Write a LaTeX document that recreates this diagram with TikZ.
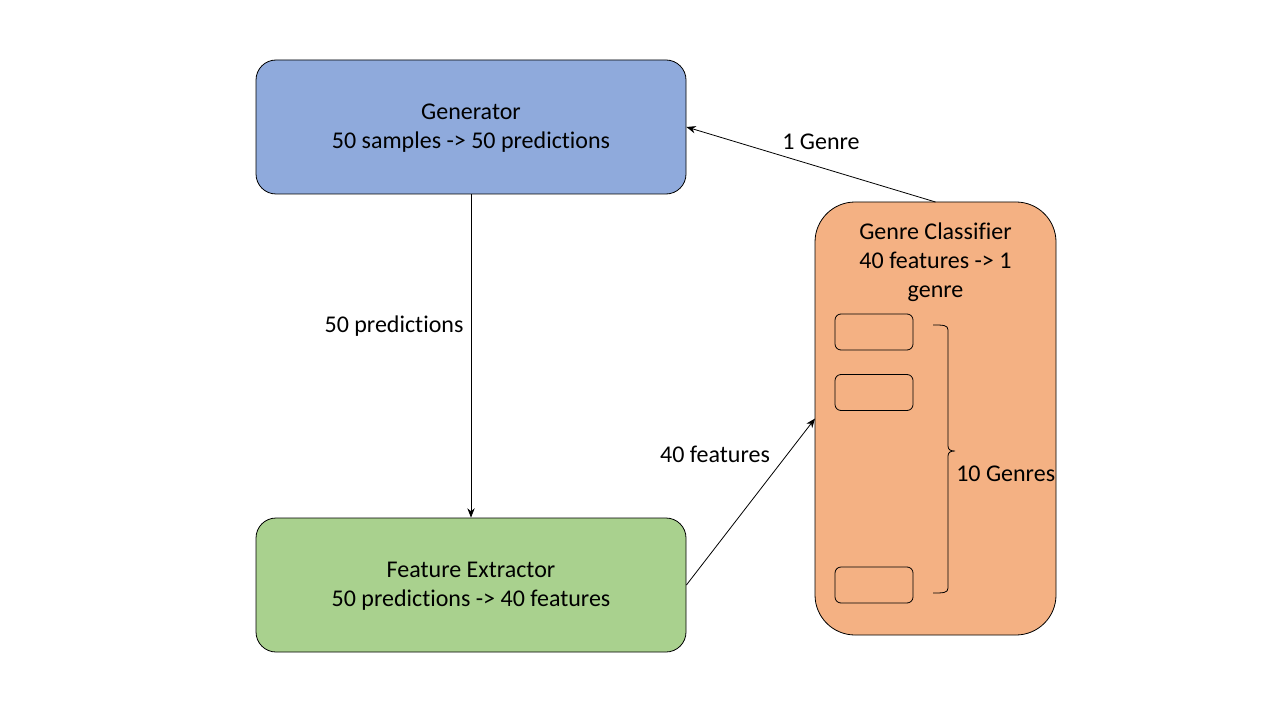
\documentclass[tikz,border=0pt]{standalone}
\usepackage{fontspec}
\setmainfont{Carlito}[Ligatures=NoCommon]
\usetikzlibrary{arrows.meta}
\definecolor{genblue}{HTML}{8FAADC}
\definecolor{fegreen}{HTML}{A9D18E}
\definecolor{gcorange}{HTML}{F4B183}
\begin{document}
\begin{tikzpicture}[x=0.75pt,y=-0.75pt,
  bigbox/.style={draw=black,line width=0.6pt,rounded corners=15pt,minimum width=322.5pt,minimum height=100.5pt,inner sep=0pt},
  slot/.style={draw=black,line width=0.6pt,fill=gcorange,rounded corners=4.5pt,minimum width=58.5pt,minimum height=27pt,inner sep=0pt},
  lbl/.style={font=\fontsize{18}{21.8}\selectfont,inner sep=0pt},
  conn/.style={draw=black,line width=0.6pt,-{Stealth[length=7pt,width=5.5pt]}}]
\useasboundingbox (0,0) rectangle (1280,720);
\fill[white] (0,0) rectangle (1280,720);
\node[bigbox,fill=genblue] (gen) at (471,127) {};
\node[lbl,align=center] (gent) at (471,128.5) {Generator\\50 samples -> 50 predictions};
\node[bigbox,fill=fegreen] (fe) at (471,585) {};
\node[lbl,align=center] (fet) at (471,586.5) {Feature Extractor\\50 predictions -> 40 features};
\draw[line width=0.6pt,fill=gcorange,rounded corners=30pt] (815,202) rectangle (1056,635);
\coordinate (gcn) at (935.5,202);
\coordinate (gcw) at (815,418.5);
\node[lbl,align=center] (gct) at (935.5,262.5) {Genre Classifier\\40 features -> 1\\genre};
\node[slot] (s1) at (874,332) {};
\node[slot] (s2) at (874,392.5) {};
\node[slot] (s3) at (874,585) {};
\draw[line width=0.6pt] (933,325) .. controls (943,325) and (948,325) .. (948,330) -- (948,446) .. controls (948,450) and (951,451) .. (955,451) .. controls (951,451) and (948,452) .. (948,456) -- (948,588) .. controls (948,593) and (943,593) .. (933,593);
\node[lbl,anchor=west] (tg) at (956,474) {10 Genres};
\draw[conn] (gen.south) -- (fe.north);
\node[lbl] (l1) at (394,326) {50 predictions};
\draw[conn] (fe.east) -- (gcw);
\node[lbl] (l2) at (715,454) {40 features};
\draw[conn] (gcn) -- (gen.east);
\node[lbl] (l3) at (821,142) {1 Genre};
\end{tikzpicture}
\end{document}
